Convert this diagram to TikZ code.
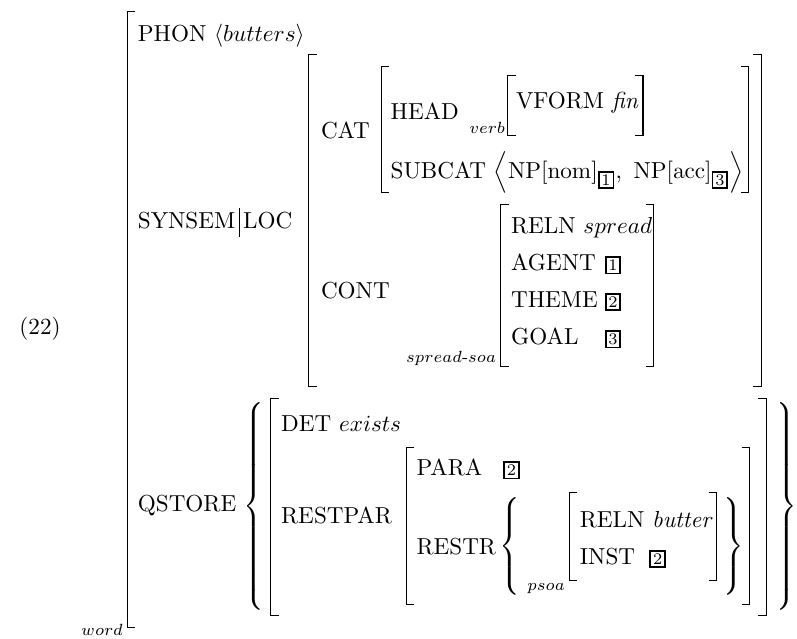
\documentclass[tikz,border=0pt]{standalone}
\usepackage{tikz}

% coindexing tag: small boxed number
\newcommand{\boxtag}[1]{{\setlength{\fboxsep}{0.8pt}\setlength{\fboxrule}{0.8pt}\fbox{\scriptsize #1}}}

\tikzset{every picture/.style={line width=0.45pt},
  feat/.style={anchor=base west, inner sep=0pt},
  sortname/.style={anchor=base east, inner sep=0pt, font=\scriptsize},
  delim/.style={inner sep=0pt}}

\begin{document}
\begin{tikzpicture}[x=0.43pt,y=0.43pt,yscale=-1,xscale=1]
\path (0,0) rectangle (797,641); %set diagram size

% Text Node
\draw (19,336) node (exno) [feat] {(22)};

%Straight Lines: outer matrix
\draw    (136,12) -- (128,12) -- (128,630) -- (136,630) ;
% Text Node
\draw (124,638) node (wordsort) [sortname] {$word$};
% Text Node
\draw (138,42) node (phon) [feat] {PHON $\langle butters\rangle$};
% Text Node
\draw (138,230) node (synsem) [feat] {SYNSEM\kern1.5pt\vrule height 9pt depth 3.5pt\kern1.5pt LOC};

%Straight Lines: LOC value
\draw    (318,55) -- (310,55) -- (310,388) -- (318,388) ;
\draw    (757,55) -- (765,55) -- (765,388) -- (757,388) ;
% Text Node
\draw (322,139) node (cat) [feat] {CAT};

%Straight Lines: CAT value
\draw    (391,67) -- (383,67) -- (383,193) -- (391,193) ;
\draw    (744,67) -- (752,67) -- (752,193) -- (744,193) ;
% Text Node
\draw (392,120) node (head) [feat] {HEAD};
% Text Node
\draw (508,134) node (headsort) [sortname] {$verb$};
%Straight Lines: HEAD value
\draw    (518,76) -- (510,76) -- (510,136) -- (518,136) ;
\draw    (638,76) -- (646,76) -- (646,136) -- (638,136) ;
% Text Node
\draw (518,109) node (vform) [feat] {VFORM \textit{fin}};
% Text Node
\draw (392,179) node (subcat) [feat] {SUBCAT $\left\langle\mathrm{NP[nom]}_{\boxtag{1}},\ \mathrm{NP[acc]}_{\boxtag{3}}\right\rangle$};

% Text Node
\draw (322,300) node (cont) [feat] {CONT};
% Text Node
\draw (499,364) node (contsort) [sortname] {$spread\mbox{-}soa$};
%Straight Lines: CONT value
\draw    (511,205) -- (503,205) -- (503,368) -- (511,368) ;
\draw    (649,205) -- (657,205) -- (657,368) -- (649,368) ;
% Text Node
\draw (513,235) node (reln) [feat] {RELN $spread$};
\draw (513,272) node (agent) [feat] {AGENT};
\draw (607,272) node (agenttag) [feat] {\boxtag{1}};
\draw (513,309) node (theme) [feat] {THEME};
\draw (607,309) node (themetag) [feat] {\boxtag{2}};
\draw (513,346) node (goal) [feat] {GOAL};
\draw (607,346) node (goaltag) [feat] {\boxtag{3}};

% Text Node
\draw (138,514) node (qstore) [feat] {QSTORE};
% Braces: QSTORE set
\draw (256,509) node (qopen) [delim] {$\left\{\vcenter{\hrule height 95pt width 0pt}\right.$};
\draw (789,509) node (qclose) [delim] {$\left.\vcenter{\hrule height 95pt width 0pt}\right\}$};
%Straight Lines: quantifier
\draw    (280,400) -- (272,400) -- (272,618) -- (280,618) ;
\draw    (762,400) -- (770,400) -- (770,618) -- (762,618) ;
% Text Node
\draw (282,433) node (det) [feat] {DET $exists$};
\draw (282,526) node (restpar) [feat] {RESTPAR};

%Straight Lines: RESTPAR value
\draw    (416,450) -- (408,450) -- (408,607) -- (416,607) ;
\draw    (745,450) -- (753,450) -- (753,607) -- (745,607) ;
% Text Node
\draw (418,478) node (para) [feat] {PARA};
\draw (505,478) node (paratag) [feat] {\boxtag{2}};
\draw (418,557) node (restr) [feat] {RESTR};
% Braces: RESTR set
\draw (514,549) node (ropen) [delim] {$\left\{\vcenter{\hrule height 46pt width 0pt}\right.$};
\draw (736,549) node (rclose) [delim] {$\left.\vcenter{\hrule height 46pt width 0pt}\right\}$};
% Text Node
\draw (568,593) node (restrsort) [sortname] {$psoa$};
%Straight Lines: psoa
\draw    (580,495) -- (572,495) -- (572,583) -- (580,583) ;
\draw    (712,495) -- (720,495) -- (720,583) -- (712,583) ;
% Text Node
\draw (582,530) node (reln2) [feat] {RELN \textit{butter}};
\draw (582,567) node (inst) [feat] {INST};
\draw (652,567) node (insttag) [feat] {\boxtag{2}};

\end{tikzpicture}
\end{document}
